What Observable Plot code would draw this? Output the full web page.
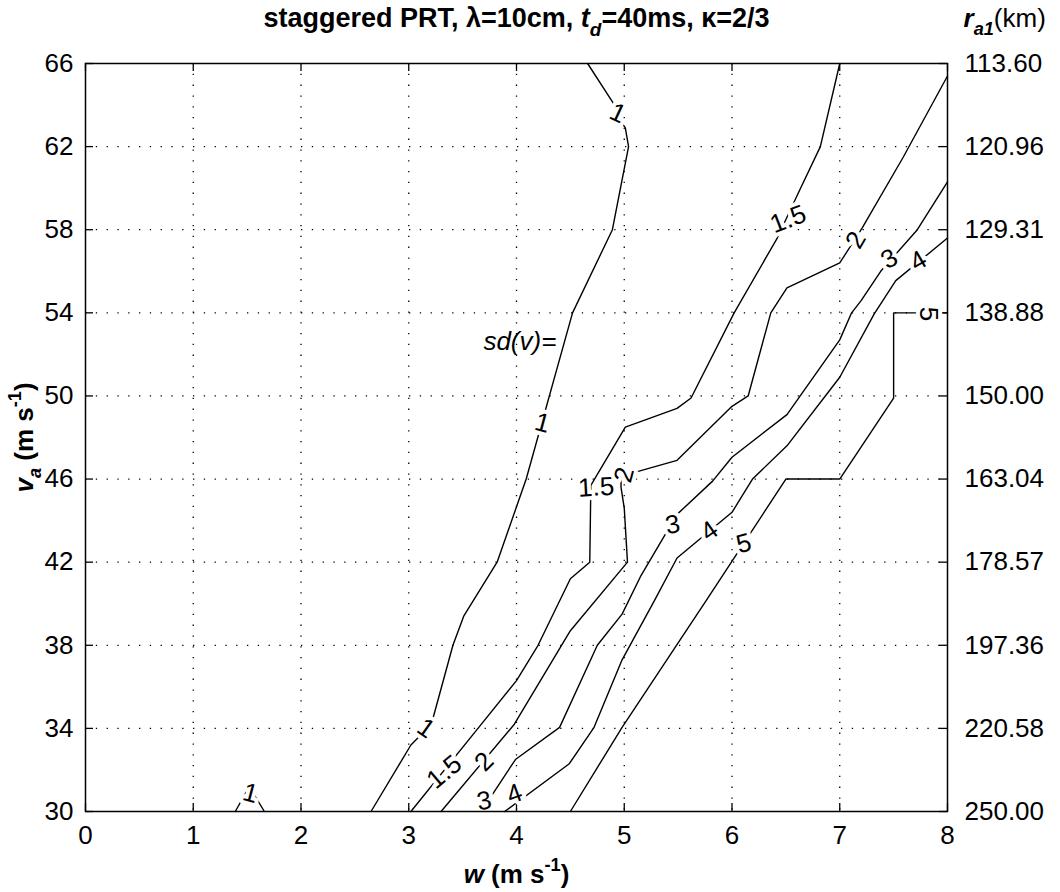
<!DOCTYPE html>
<html><head><meta charset="utf-8">
<script src="https://cdn.jsdelivr.net/npm/d3@7"></script>
<script src="https://cdn.jsdelivr.net/npm/@observablehq/plot@0.6"></script>
<style>body{margin:0;background:#fff}</style>
</head><body><div id="chart"></div>
<script>
// ---- data ----
const xTicks = [0, 1, 2, 3, 4, 5, 6, 7, 8];
const yTicks = [30, 34, 38, 42, 46, 50, 54, 58, 62, 66];
const rangeLabels = ["250.00", "220.58", "197.36", "178.57", "163.04", "150.00", "138.88", "129.31", "120.96", "113.60"];
const xGrid = [1, 2, 3, 4, 5, 6, 7];
const yGrid = [34, 38, 42, 46, 50, 54, 58, 62];

// contour polylines [w, v]
const contour1 = [[4.66,66],[4.91,64.0],[4.97,63.2],[5.01,62.9],[5.04,62.0],[4.89,58.0],[4.52,54.0],[4.09,46.0],[3.82,42.0],[3.51,39.4],[3.41,38.0],[3.21,34.2],[3.02,33.2],[2.65,30]];
const contour1b = [[1.39,30],[1.52,31.2],[1.66,30]];
const contour15 = [[7.0,66],[6.82,62],[6.60,59.6],[6.42,57.6],[6.02,54],[5.62,49.9],[5.49,49.4],[5.01,48.5],[4.69,45.7],[4.68,42.0],[4.50,41.2],[4.20,38.0],[4.0,36.3],[3.65,34.05],[3.02,30]];
const contour2 = [[8.0,65.4],[7.59,61.5],[7.21,58.1],[7.0,56.4],[6.51,55.2],[6.36,54.0],[6.15,50.0],[6.0,49.5],[5.49,46.9],[5.08,46.3],[4.97,46.1],[4.97,45.6],[5.0,44.6],[5.03,42.0],[4.50,38.7],[3.98,34.2],[3.30,30]];
const contour3 = [[8.0,60.3],[7.72,58.0],[7.38,56.0],[7.20,54.6],[7.11,54.0],[7.0,52.7],[6.51,49.1],[6.0,47.05],[5.82,45.9],[5.49,44.3],[5.15,41.3],[4.98,39.5],[4.75,38.0],[4.40,34.05],[3.99,32.5],[3.78,30.85],[3.67,30]];
const contour4 = [[8.0,57.6],[7.52,55.55],[7.32,53.95],[7.0,50.9],[6.51,47.6],[6.19,46.0],[6.0,44.4],[5.49,42.2],[5.28,40.15],[4.98,37.3],[4.72,34.05],[4.49,32.3],[3.89,30.0]];
const contour5 = [[8.0,54.0],[7.5,54.0],[7.5,49.9],[7.0,46.0],[6.5,46.0],[5.76,40.15],[4.98,34.05],[4.50,30]];

// inline contour labels [w, v, text, angle]
const contourLabels = [
  [4.94,63.6,"1",25],[4.24,48.7,"1",15],[3.16,34.0,"1",35],[1.53,30.87,"1",15],
  [6.52,58.5,"1.5",-21],[4.74,45.6,"1.5",-3],[3.33,31.9,"1.5",-40],
  [7.15,57.5,"2",-60],[5.0,46.2,"2",-75],[3.70,32.4,"2",-45],
  [7.46,56.6,"3",-30],[5.45,43.8,"3",-10],[3.70,30.5,"3",-10],
  [7.73,56.5,"4",-30],[5.79,43.5,"4",-35],[3.98,30.85,"4",-20],
  [6.11,42.9,"5",-15],[7.82,53.95,"5",90]
];
const annotation = [[4.37, 52.6, "sd(v)="]];

const titleText = "staggered PRT, λ=10cm, *t*_{*d*}=40ms, κ=2/3";
const rightTitle = "*r*_{*a1*}~(km)~";
const xLabel = "*w* (m s^{-1})";
const yLabel = "*v*_{*a*} (m s^{-1})";

// ---- build ----
const W = 1060, H = 892, mL = 85, mR = 113, mT = 63, mB = 81;
const frameW = W - mL - mR, frameH = H - mT - mB;
const FONT = "'Liberation Sans', Arial, Helvetica, sans-serif";
const FS = 26;

const lines = [];
[["1",contour1],["1b",contour1b],["1.5",contour15],["2",contour2],["3",contour3],["4",contour4],["5",contour5]]
  .forEach(([id, pts]) => pts.forEach(([w, v]) => lines.push({id, w, v})));
const labels = contourLabels.map(([w, v, t, a]) => ({w, v, t, a}));
const notes = annotation.map(([w, v, t]) => ({w, v, t}));

const chart = Plot.plot({
  width: W, height: H,
  marginLeft: mL, marginRight: mR, marginTop: mT, marginBottom: mB,
  style: {fontFamily: FONT, fontSize: FS + "px", color: "black", background: "white"},
  x: {domain: [0, 8], axis: null},
  y: {domain: [30, 66], axis: null},
  marks: [
    Plot.ruleX(xGrid, {x: d => d, stroke: "black", strokeWidth: 1.3, strokeDasharray: "1.3,9.5"}),
    Plot.ruleY(yGrid, {y: d => d, stroke: "black", strokeWidth: 1.3, strokeDasharray: "1.3,9.5"}),
    Plot.tickX(xTicks, {x: d => d, insetTop: frameH - 8, stroke: "black", strokeWidth: 1.3}),
    Plot.tickX(xTicks, {x: d => d, insetBottom: frameH - 8, stroke: "black", strokeWidth: 1.3}),
    Plot.tickY(yTicks, {y: d => d, insetRight: frameW - 8, stroke: "black", strokeWidth: 1.3}),
    Plot.tickY(yTicks, {y: d => d, insetLeft: frameW - 8, stroke: "black", strokeWidth: 1.3}),
    Plot.line(lines, {x: "w", y: "v", z: "id", stroke: "black", strokeWidth: 1.4}),
    Plot.text(labels, {x: "w", y: "v", text: "t", rotate: "a", fontSize: FS, fill: "black", stroke: "white", strokeWidth: 8}),
    Plot.text(notes, {x: "w", y: "v", text: "t", textAnchor: "end", fontSize: FS, fontStyle: "italic", fill: "black"}),
    Plot.axisX({ticks: xTicks, anchor: "bottom", tickSize: 0, tickPadding: 14, label: null, fontSize: FS}),
    Plot.axisY({ticks: yTicks, anchor: "left", tickSize: 0, tickPadding: 12, label: null, fontSize: FS}),
    Plot.axisY({ticks: yTicks, anchor: "right", tickSize: 0, tickPadding: 17, label: null, fontSize: FS,
      tickFormat: d => rangeLabels[yTicks.indexOf(d)]}),
    Plot.text([titleText], {text: d => d, frameAnchor: "top", lineAnchor: "middle", textAnchor: "middle", dy: -45, fontSize: 27, fontWeight: "bold"}),
    Plot.text([rightTitle], {text: d => d, frameAnchor: "top-right", lineAnchor: "middle", textAnchor: "start", dx: 16, dy: -45, fontSize: 26, fontWeight: "bold"}),
    Plot.text([xLabel], {text: d => d, frameAnchor: "bottom", lineAnchor: "middle", textAnchor: "middle", dy: 63, fontSize: 26, fontWeight: "bold"}),
    Plot.text([yLabel], {text: d => d, frameAnchor: "left", lineAnchor: "middle", textAnchor: "middle", dx: -61, rotate: -90, fontSize: 26, fontWeight: "bold"}),
    Plot.frame({stroke: "black", strokeWidth: 1.5})
  ]
});

// rich text: *italic*, _{sub}, ^{sup}, ~normal weight~
function richText(svg) {
  d3.select(svg).selectAll("text").each(function () {
    const s = this.textContent;
    if (!/[*_^~]/.test(s)) return;
    const el = d3.select(this);
    el.text(null);
    const re = /\*([^*]*)\*|([_^])\{([^}]*)\}|~([^~]*)~|([^*_^~]+)/g;
    let m, cur = 0;
    while ((m = re.exec(s))) {
      const t = el.append("tspan");
      if (m[2] !== undefined) {
        let inner = m[3];
        if (/^\*.*\*$/.test(inner)) { inner = inner.slice(1, -1); t.attr("font-style", "italic"); }
        const target = m[2] === "_" ? 0.32 : -0.45;
        t.attr("font-size", "70%").attr("dy", ((target - cur) / 0.7).toFixed(3) + "em").text(inner);
        cur = target;
      } else {
        if (cur !== 0) t.attr("dy", (-cur).toFixed(3) + "em");
        cur = 0;
        if (m[1] !== undefined) t.attr("font-style", "italic").text(m[1]);
        else if (m[4] !== undefined) t.attr("font-weight", "normal").text(m[4]);
        else t.text(m[5]);
      }
    }
  });
}
richText(chart);
document.getElementById("chart").appendChild(chart);
</script>
</body></html>
